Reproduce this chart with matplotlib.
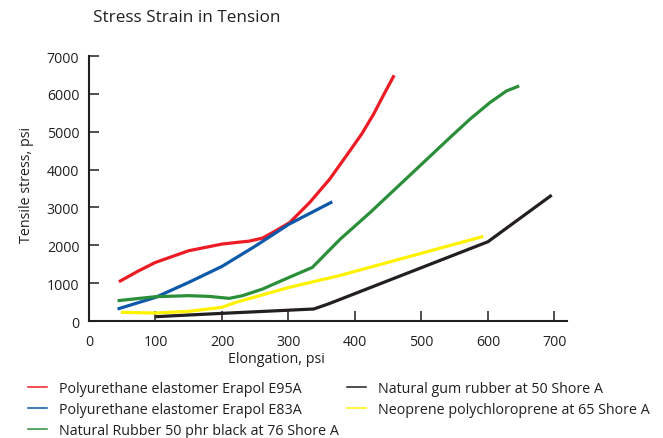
import matplotlib
matplotlib.use("Agg")
import matplotlib.pyplot as plt
from matplotlib.lines import Line2D

plt.rcParams["font.family"] = ["Open Sans", "DejaVu Sans"]

TEXT = "#231f20"

# Values (elongation, tensile stress in psi)
e95a_x = [45, 75, 100, 150, 200, 222, 241, 261, 281, 302, 332, 362, 387, 410, 428, 445, 459]
e95a_y = [1037, 1328, 1548, 1856, 2032, 2075, 2110, 2190, 2384, 2603, 3131, 3747, 4362, 4934, 5462, 6033, 6491]

e83a_x = [43, 100, 150, 200, 251, 301, 366]
e83a_y = [317, 624, 1020, 1442, 1988, 2559, 3149]

nr_x = [43, 100, 150, 180, 211, 231, 261, 301, 336, 362, 378, 423, 463, 503, 543, 573, 603, 628, 647]
nr_y = [536, 642, 669, 651, 598, 669, 844, 1152, 1416, 1880, 2164, 2867, 3527, 4186, 4846, 5330, 5769, 6077, 6209]

gum_x = [100, 200, 338, 360, 600, 696]
gum_y = [114, 202, 317, 450, 2093, 3325]

neo_x = [48, 100, 150, 200, 221, 301, 376, 593]
neo_y = [229, 211, 255, 361, 493, 888, 1196, 2234]

labels = [
    "Polyurethane elastomer Erapol E95A",
    "Polyurethane elastomer Erapol E83A",
    "Natural Rubber 50 phr black at 76 Shore A",
    "Natural gum rubber at 50 Shore A",
    "Neoprene polychloroprene at 65 Shore A",
]
colors = ["#ed1c24", "#0b59a8", "#2b8f3a", "#231f20", "#fff200"]

x_ticks = [0, 100, 200, 300, 400, 500, 600, 700]
y_ticks = [0, 1000, 2000, 3000, 4000, 5000, 6000, 7000]

fig = plt.figure(figsize=(6.63, 4.39), dpi=100)
ax = fig.add_axes([89 / 663, 1 - 322 / 439, 478 / 663, 265 / 439])

series = [(e95a_x, e95a_y), (e83a_x, e83a_y), (nr_x, nr_y), (gum_x, gum_y), (neo_x, neo_y)]
for (xs, ys), c in zip(series, colors):
    ax.plot(xs, ys, color=c, lw=2.3, solid_capstyle="butt", solid_joinstyle="round")

ax.set_xlim(0, 719)
ax.set_ylim(0, 7000)
ax.set_xticks(x_ticks)
ax.set_yticks(y_ticks)
ax.spines["top"].set_visible(False)
ax.spines["right"].set_visible(False)
for s in ("left", "bottom"):
    ax.spines[s].set_linewidth(1.5)
    ax.spines[s].set_color(TEXT)
ax.tick_params(direction="in", length=7, width=1.1, colors=TEXT, labelsize=10.2, pad=7)
ax.tick_params(axis="x", pad=9)

ax.set_xlabel("Elongation, psi", fontsize=10.3, color=TEXT)
ax.xaxis.set_label_coords((276 - 89) / 478, -0.115)
ax.set_ylabel("Tensile stress, psi", fontsize=10.3, color=TEXT)
ax.yaxis.set_label_coords((34 - 89) / 478, 0.517)

fig.text(93 / 663, 1 - 18 / 439, "Stress Strain in Tension", fontsize=12.3, color=TEXT,
         ha="left", va="center")

handles = [Line2D([], [], color=c, lw=1.1) for c in colors]
leg_kw = dict(frameon=False, loc="upper left", fontsize=10.3, borderpad=0, borderaxespad=0,
              handlelength=1.3, handletextpad=0.85, labelspacing=0.42, labelcolor=TEXT)
fig.legend(handles[:3], labels[:3], bbox_to_anchor=(28 / 663, 1 - 382 / 439), **leg_kw)
fig.legend(handles[3:], labels[3:], bbox_to_anchor=(347 / 663, 1 - 382 / 439), **leg_kw)

fig.savefig("out.png", dpi=100)
